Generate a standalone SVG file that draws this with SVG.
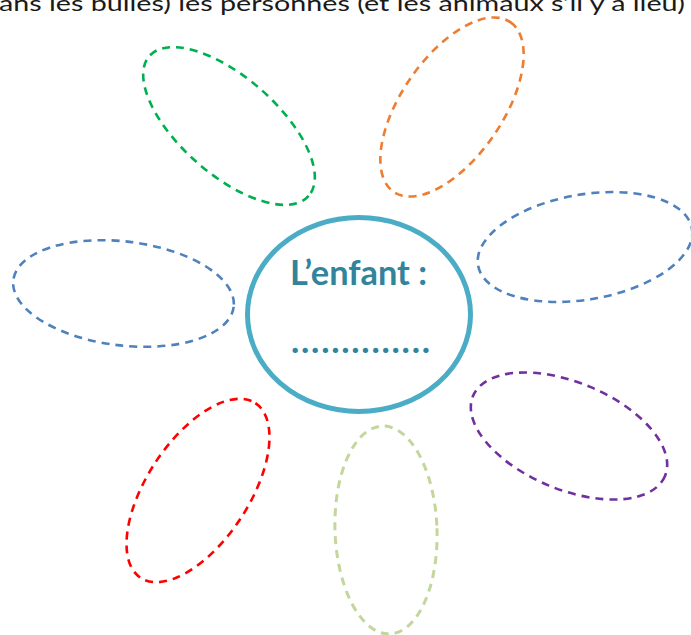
<svg xmlns="http://www.w3.org/2000/svg" width="691" height="635" viewBox="0 0 691 635">
  <style>
    .bubble { fill: none; stroke-width: 2.6; stroke-dasharray: 8 6; }
    .title { font-family: Lato, "Liberation Sans", sans-serif; font-size: 22px; fill: #1a1a1a; }
    .center { font-family: Lato, "Liberation Sans", sans-serif; font-weight: bold; fill: #31849B; }
  </style>
  <rect x="0" y="0" width="691" height="635" fill="#ffffff"/>
  <text class="title" x="-1" y="11" textLength="686" lengthAdjust="spacingAndGlyphs">ans les bulles) les personnes (et les animaux s’il y a lieu)</text>

  <g id="bubble-green">
    <ellipse class="bubble" cx="229" cy="126" rx="106" ry="48.5" transform="rotate(41.3 229 126)" stroke="#00B050"/>
  </g>
  <g id="bubble-orange">
    <ellipse class="bubble" cx="452" cy="107" rx="103" ry="50.5" transform="rotate(-55.5 452 107)" stroke="#ED7D31"/>
  </g>
  <g id="bubble-blue-left">
    <ellipse class="bubble" cx="123.5" cy="293.5" rx="111" ry="52" transform="rotate(6.9 123.5 293.5)" stroke="#4F81BD"/>
  </g>
  <g id="bubble-blue-right">
    <ellipse class="bubble" cx="585" cy="247" rx="108.5" ry="52.5" transform="rotate(-9.8 585 247)" stroke="#4F81BD"/>
  </g>
  <g id="bubble-purple">
    <ellipse class="bubble" cx="569" cy="436" rx="104" ry="53.5" transform="rotate(22.6 569 436)" stroke="#7030A0"/>
  </g>
  <g id="bubble-red">
    <ellipse class="bubble" cx="198" cy="490.5" rx="104.5" ry="51" transform="rotate(-56.7 198 490.5)" stroke="#FF0000"/>
  </g>
  <g id="bubble-lightgreen">
    <ellipse class="bubble" cx="386" cy="530" rx="51" ry="104" transform="rotate(-2 386 530)" stroke="#C3D69B" style="stroke-width:3"/>
  </g>

  <g id="center">
    <ellipse cx="359" cy="314.5" rx="111.5" ry="97" fill="#ffffff" stroke="#4BACC6" stroke-width="5"/>
    <text class="center" x="290" y="285" font-size="35" textLength="137" lengthAdjust="spacingAndGlyphs">L’enfant :</text>
    <text class="center" x="291" y="353" font-size="35" textLength="139" lengthAdjust="spacing">..............</text>
  </g>

  <g id="connectors"></g>
</svg>
